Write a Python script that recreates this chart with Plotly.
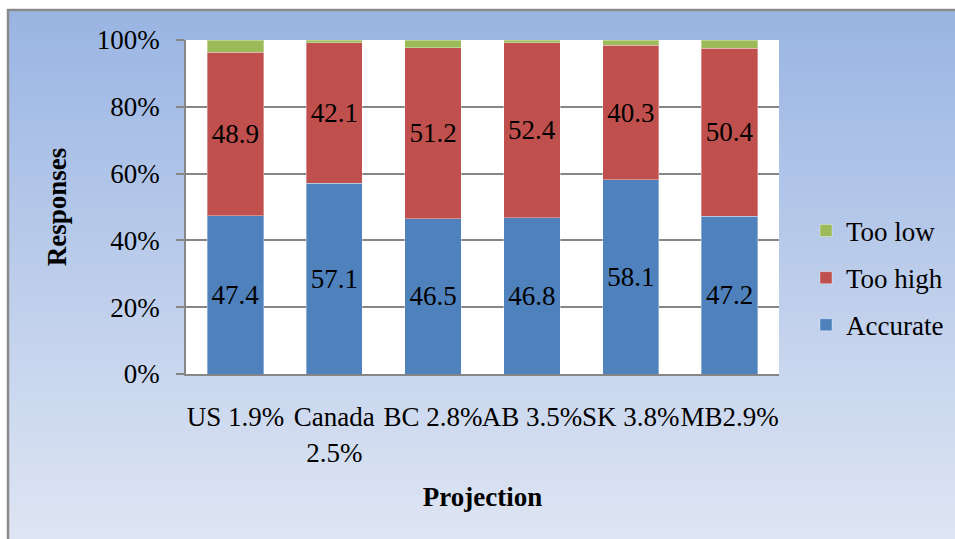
import plotly.graph_objects as go

# Survey responses by projection (percent of respondents)
categories = ["US 1.9%", "Canada<br>2.5%", "BC 2.8%", "AB 3.5%", "SK 3.8%", "MB2.9%"]
accurate = [47.4, 57.1, 46.5, 46.8, 58.1, 47.2]
too_high = [48.9, 42.1, 51.2, 52.4, 40.3, 50.4]
too_low = [3.7, 0.8, 2.3, 0.8, 1.6, 2.4]
y_ticks = [0, 20, 40, 60, 80, 100]
y_tick_labels = ["0%", "20%", "40%", "60%", "80%", "100%"]

FONT = "Liberation Serif, Times New Roman, serif"
W, H = 955, 539
ML, MR, MT, MB = 186, 176, 40, 165
PW, PH = W - ML - MR, H - MT - MB


def px_x(p):
    return (p - ML) / PW


def px_y(p):
    return (H - MB - p) / PH


fig = go.Figure()
fig.add_trace(go.Bar(
    x=categories, y=accurate, name="Accurate", legendgroup="a", legendrank=3,
    marker=dict(color="#4f81bd", line=dict(color="rgba(255,255,255,0.35)", width=1)),
    text=[f"{v:.1f}" for v in accurate], textposition="inside",
    insidetextanchor="middle", constraintext="none",
    textfont=dict(family=FONT, size=27, color="black"),
))
fig.add_trace(go.Bar(
    x=categories, y=too_high, name="Too high", legendgroup="b", legendrank=2,
    marker=dict(color="#c0504d", line=dict(color="rgba(255,255,255,0.35)", width=1)),
    text=[f"{v:.1f}" for v in too_high], textposition="inside",
    insidetextanchor="middle", constraintext="none",
    textfont=dict(family=FONT, size=27, color="black"),
))
fig.add_trace(go.Bar(
    x=categories, y=too_low, name="Too low", legendgroup="c", legendrank=1,
    marker=dict(color="#9bbb59", line=dict(color="rgba(255,255,255,0.35)", width=1)),
))

# Vertical gradient background inside the framed chart area
shapes = []
top, bottom = 11, H
steps = 132
c0 = (154, 181, 227)
c1 = (222, 229, 243)
for i in range(steps):
    t = i / (steps - 1)
    col = tuple(round(c0[k] + (c1[k] - c0[k]) * t) for k in range(3))
    y0 = top + (bottom - top) * i / steps
    y1 = top + (bottom - top) * (i + 1) / steps + 0.6
    shapes.append(dict(
        type="rect", xref="paper", yref="paper", layer="below",
        x0=px_x(9), x1=px_x(W + 5), y0=px_y(y1), y1=px_y(y0),
        line=dict(width=0), fillcolor="rgb(%d,%d,%d)" % col,
    ))
# white plotting area
shapes.append(dict(type="rect", xref="paper", yref="paper", layer="below",
                   x0=0, x1=1, y0=0, y1=1, line=dict(width=0), fillcolor="white"))
# chart frame
shapes.append(dict(type="rect", xref="paper", yref="paper", layer="above",
                   x0=px_x(8), x1=px_x(W + 10), y0=px_y(H + 10), y1=px_y(10),
                   line=dict(color="#8a8a8a", width=2.5), fillcolor="rgba(0,0,0,0)"))

fig.update_layout(
    width=W, height=H,
    margin=dict(l=ML, r=MR, t=MT, b=MB, autoexpand=False),
    barmode="stack", bargap=0.43,
    paper_bgcolor="white", plot_bgcolor="white",
    font=dict(family=FONT, size=27, color="black"),
    shapes=shapes,
    showlegend=True,
    legend=dict(
        x=px_x(806), xanchor="left", y=px_y(278), yanchor="middle",
        traceorder="grouped", tracegroupgap=9,
        bgcolor="rgba(0,0,0,0)", font=dict(family=FONT, size=27, color="black"),
    ),
    uniformtext=dict(minsize=27, mode="show"),
)
fig.update_yaxes(
    range=[0, 100], tickvals=y_ticks, ticktext=y_tick_labels,
    showgrid=True, gridcolor="#868686", gridwidth=1.5,
    showline=True, linecolor="#868686", linewidth=1.5,
    ticks="outside", ticklen=8, tickcolor="#868686", tickwidth=1.5,
    tickfont=dict(family=FONT, size=27, color="black"),
    ticklabelstandoff=11,
    zeroline=False, automargin=False,
    title=dict(text="<b>Responses</b>", font=dict(family=FONT, size=27, color="black"), standoff=22),
)
fig.update_xaxes(
    showline=True, linecolor="#868686", linewidth=2,
    ticks="", tickangle=0, tickfont=dict(family=FONT, size=27, color="black"),
    ticklabelstandoff=18, automargin=False,
    title=dict(text="<b>Projection</b>", font=dict(family=FONT, size=27, color="black"), standoff=21),
)

fig.write_html("out.html")
